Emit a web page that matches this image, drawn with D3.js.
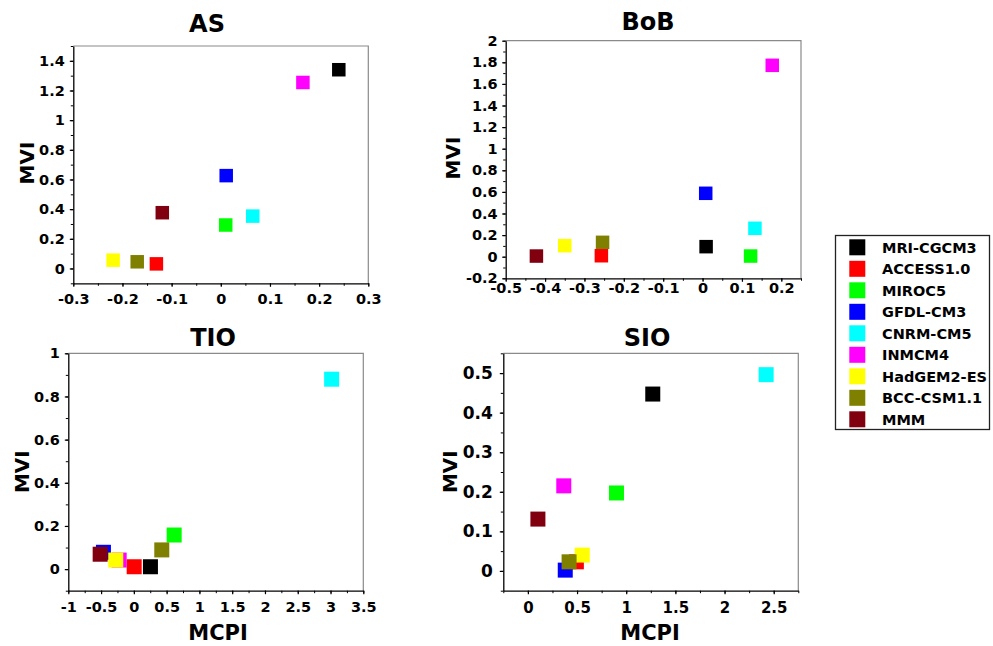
<!DOCTYPE html>
<html>
<head>
<meta charset="utf-8">
<script src="https://cdn.jsdelivr.net/npm/d3@7"></script>
<style>
  html, body { margin: 0; padding: 0; background: #ffffff; }
  svg { display: block; }
  text { font-family: "DejaVu Sans", Verdana, sans-serif; font-weight: bold; fill: #000; }
</style>
</head>
<body>
<svg id="chart" width="993" height="646"></svg>
<script>
// Models (legend order = drawing order)
const models = ["MRI-CGCM3", "ACCESS1.0", "MIROC5", "GFDL-CM3", "CNRM-CM5", "INMCM4", "HadGEM2-ES", "BCC-CSM1.1", "MMM"];
const modelColors = ["#000000", "#ff0000", "#00ff00", "#0000ff", "#00ffff", "#ff00ff", "#ffff00", "#808000", "#800010"];

// MCPI (x) and MVI (y) per region, one entry per model
const asMCPI  = [0.240, -0.131, 0.010, 0.011, 0.065, 0.167, -0.219, -0.170, -0.119];
const asMVI   = [1.340, 0.031, 0.293, 0.626, 0.353, 1.254, 0.056, 0.045, 0.376];

const bobMCPI = [0.009, -0.257, 0.122, 0.008, 0.133, 0.177, -0.350, -0.254, -0.422];
const bobMVI  = [0.093, 0.009, 0.006, 0.587, 0.263, 1.772, 0.102, 0.133, 0.006];

const tioMCPI = [0.253, 0.005, 0.615, -0.464, 3.017, -0.224, -0.276, 0.426, -0.514];
const tioMVI  = [0.011, 0.011, 0.158, 0.078, 0.880, 0.042, 0.042, 0.089, 0.069];

const sioMCPI = [1.270, 0.493, 0.901, 0.380, 2.423, 0.365, 0.553, 0.419, 0.102];
const sioMVI  = [0.447, 0.023, 0.197, 0.002, 0.496, 0.215, 0.040, 0.023, 0.131];

// Axis tick values
const asXTicks  = [-0.3, -0.2, -0.1, 0, 0.1, 0.2, 0.3];
const asYTicks  = [0, 0.2, 0.4, 0.6, 0.8, 1, 1.2, 1.4];
const bobXTicks = [-0.5, -0.4, -0.3, -0.2, -0.1, 0, 0.1, 0.2];
const bobYTicks = [-0.2, 0, 0.2, 0.4, 0.6, 0.8, 1, 1.2, 1.4, 1.6, 1.8, 2];
const tioXTicks = [-1, -0.5, 0, 0.5, 1, 1.5, 2, 2.5, 3, 3.5];
const tioYTicks = [0, 0.2, 0.4, 0.6, 0.8, 1];
const sioXTicks = [0, 0.5, 1, 1.5, 2, 2.5];
const sioYTicks = [0, 0.1, 0.2, 0.3, 0.4, 0.5];

const panels = [
  { title: "AS",  xs: asMCPI,  ys: asMVI,  xTicks: asXTicks,  yTicks: asYTicks,
    xDom: [-0.3, 0.3], yDom: [-0.1, 1.5], xMinor: 0.05, yMinor: 0.1,
    left: 73.3, right: 368.3, top: 46, bottom: 283.3,
    titleX: 207, titleY: 32, mviX: 26.5, mviY: 163, xlabel: false,
    xPad: 7, yPad: 5, xFont: 14.5, yFont: 14.5, size: 13.5 },
  { title: "BoB", xs: bobMCPI, ys: bobMVI, xTicks: bobXTicks, yTicks: bobYTicks,
    xDom: [-0.5, 0.25], yDom: [-0.2, 2], xMinor: 0.05, yMinor: 0.1,
    left: 505.7, right: 801, top: 40.7, bottom: 278.3,
    titleX: 648, titleY: 30, mviX: 452.5, mviY: 158, xlabel: false,
    xPad: 1, yPad: 4.5, xFont: 14.5, yFont: 14.5, size: 13.5 },
  { title: "TIO", xs: tioMCPI, ys: tioMVI, xTicks: tioXTicks, yTicks: tioYTicks,
    xDom: [-1, 3.5], yDom: [-0.1, 1], xMinor: 0.25, yMinor: 0.1,
    left: 68.3, right: 363.3, top: 353.3, bottom: 590.7,
    titleX: 213, titleY: 345.7, mviX: 21.7, mviY: 471.7, xlabel: true, mcpiX: 218, mcpiY: 640,
    xPad: 8, yPad: 5, xFont: 14.5, yFont: 14.5, size: 15 },
  { title: "SIO", xs: sioMCPI, ys: sioMVI, xTicks: sioXTicks, yTicks: sioYTicks,
    xDom: [-0.25, 2.75], yDom: [-0.05, 0.55], xMinor: 0.25, yMinor: 0.05,
    left: 503.3, right: 798.3, top: 353.3, bottom: 590.7,
    titleX: 647, titleY: 345.7, mviX: 449.3, mviY: 471.7, xlabel: true, mcpiX: 650, mcpiY: 640,
    xPad: 8, yPad: 7, xFont: 15, yFont: 17, size: 15 }
];

const svg = d3.select("#chart");
const fmt = v => String(+v.toFixed(2));

function minorValues(dom, step) {
  const out = [];
  const start = Math.ceil(dom[0] / step - 1e-9);
  const end = Math.floor(dom[1] / step + 1e-9);
  for (let i = start; i <= end; i++) out.push(+(i * step).toFixed(4));
  return out;
}

panels.forEach(p => {
  const x = d3.scaleLinear().domain(p.xDom).range([p.left, p.right]);
  const y = d3.scaleLinear().domain(p.yDom).range([p.bottom, p.top]);
  const g = svg.append("g");

  // grey frame on top and right
  g.append("path")
    .attr("d", `M${p.left},${p.top}H${p.right}V${p.bottom}`)
    .attr("fill", "none").attr("stroke", "#8a8a8a").attr("stroke-width", 1.2);

  // minor ticks
  const xm = d3.axisBottom(x).tickValues(minorValues(p.xDom, p.xMinor)).tickSize(2.5).tickFormat("").tickSizeOuter(0);
  g.append("g").attr("transform", `translate(0,${p.bottom})`).call(xm)
    .call(a => a.select(".domain").remove())
    .selectAll("line").attr("stroke", "#000").attr("stroke-width", 1);
  const ym = d3.axisLeft(y).tickValues(minorValues(p.yDom, p.yMinor)).tickSize(2.5).tickFormat("").tickSizeOuter(0);
  g.append("g").attr("transform", `translate(${p.left},0)`).call(ym)
    .call(a => a.select(".domain").remove())
    .selectAll("line").attr("stroke", "#000").attr("stroke-width", 1);

  // major axes
  const xa = d3.axisBottom(x).tickValues(p.xTicks).tickFormat(fmt).tickSize(3.5).tickSizeOuter(0).tickPadding(p.xPad);
  const xg = g.append("g").attr("transform", `translate(0,${p.bottom})`).call(xa);
  xg.attr("font-family", null).attr("font-size", null);
  xg.selectAll("text").style("font-size", p.xFont + "px");
  xg.select(".domain").attr("stroke", "#000").attr("stroke-width", 1.3);
  xg.selectAll("line").attr("stroke", "#000").attr("stroke-width", 1.2);

  const ya = d3.axisLeft(y).tickValues(p.yTicks).tickFormat(fmt).tickSize(3.5).tickSizeOuter(0).tickPadding(p.yPad);
  const yg = g.append("g").attr("transform", `translate(${p.left},0)`).call(ya);
  yg.attr("font-family", null).attr("font-size", null);
  yg.selectAll("text").style("font-size", p.yFont + "px");
  yg.select(".domain").attr("stroke", "#000").attr("stroke-width", 1.3);
  yg.selectAll("line").attr("stroke", "#000").attr("stroke-width", 1.2);

  // title and axis labels
  g.append("text").attr("x", p.titleX).attr("y", p.titleY)
    .attr("text-anchor", "middle").style("font-size", "24px").text(p.title);
  g.append("text")
    .attr("transform", `translate(${p.mviX},${p.mviY}) rotate(-90)`)
    .attr("text-anchor", "middle").attr("dy", "0.36em")
    .style("font-size", "20px").text("MVI");
  if (p.xlabel) {
    g.append("text").attr("x", p.mcpiX).attr("y", p.mcpiY)
      .attr("text-anchor", "middle").style("font-size", "21px").text("MCPI");
  }

  // square markers, one per model
  const s = p.size;
  g.selectAll("rect.pt").data(models.map((m, i) => ({ m, i, xv: p.xs[i], yv: p.ys[i] })))
    .join("rect").attr("class", "pt")
    .attr("x", d => x(d.xv) - s / 2)
    .attr("y", d => y(d.yv) - s / 2)
    .attr("width", s).attr("height", s)
    .attr("fill", d => modelColors[d.i]);
});

// legend
const lg = svg.append("g");
lg.append("rect").attr("x", 835.5).attr("y", 235.5).attr("width", 154).attr("height", 194)
  .attr("fill", "#fff").attr("stroke", "#222").attr("stroke-width", 1.3);
const rowY = d3.scalePoint().domain(models).range([247.3, 419.3]);
models.forEach((m, i) => {
  lg.append("rect").attr("x", 849.3).attr("y", rowY(m) - 8).attr("width", 16).attr("height", 16)
    .attr("fill", modelColors[i]);
  lg.append("text").attr("x", 882).attr("y", rowY(m)).attr("dy", "0.36em")
    .style("font-size", "14.5px").text(m);
});
</script>
</body>
</html>
